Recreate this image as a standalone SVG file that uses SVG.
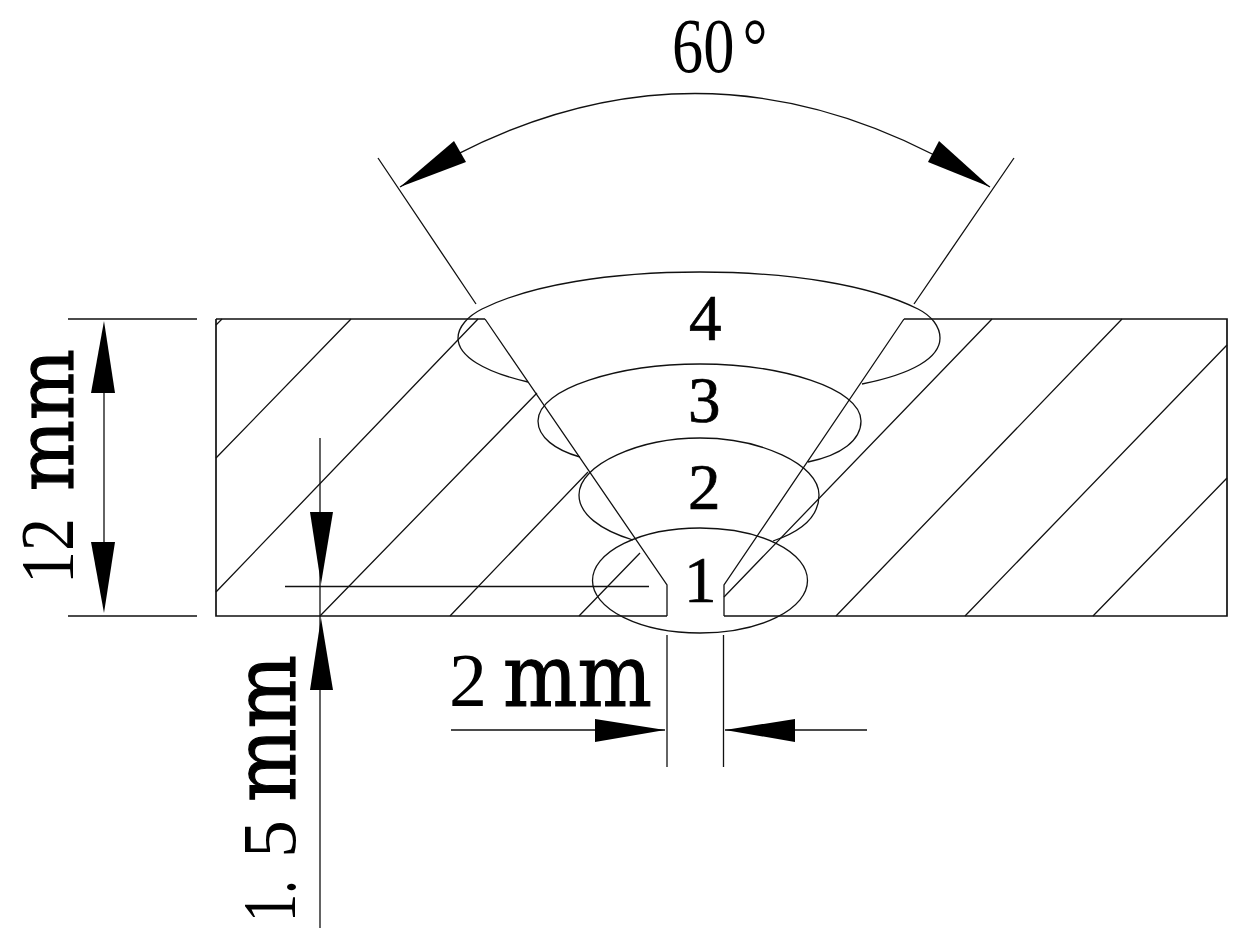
<svg xmlns="http://www.w3.org/2000/svg" width="1244" height="946" viewBox="0 0 1244 946">
<style>
.l{fill:none;stroke:#111;stroke-width:1.3}
.p{fill:none;stroke:#111;stroke-width:1.7}
.a{fill:#000;stroke:none}
.t{font-family:"Liberation Serif","Noto Sans CJK SC",serif;fill:#000}
.n{font-size:65px;stroke:#000;stroke-width:.7}
.d{font-size:77px}
.m{font-family:"DejaVu Serif",serif;font-size:86px;stroke:#000;stroke-width:1.2}
.s{font-family:"DejaVu Serif",serif;font-size:78px;stroke:#000;stroke-width:1.2}
</style>
<rect width="1244" height="946" fill="#fff"/>
<g id="plate" class="p">
<path d="M216 319H485M904 319H1227V616H724M667 616H216V319"/>
</g>
<g id="hatch" class="l">
<path d="M216 325L222 319M216 458L351 319M216 592L478 319M320 616L537 393M450 616L588 472M579 616L640 553M724 597L992 319M836 616L1122 319M965 616L1227 345M1093 616L1227 478"/>
</g>
<g id="groove" class="l">
<path d="M485 319L667 585V616M904 319L724 585V616"/>
</g>
<g id="pass4" class="l"><path d="M528 382C484 372 458 356 458 338C458 327 468 316 482 309C530 285 610 272 700 272C790 272 870 285 918 309C932 316 940 327 940 338C940 358 912 374 862 384"/></g>
<g id="pass3" class="l"><path d="M580 457C555 450 538 437 538 421C538 388 620 364 700 364C780 364 861 388 861 421C861 440 842 455 808 462"/></g>
<g id="pass2" class="l"><path d="M633 540C600 530 579 514 579 495C579 464 640 438 700 438C760 438 819 464 819 495C819 514 806 530 773 541"/></g>
<g id="pass1" class="l"><ellipse cx="700" cy="580.500" rx="107.500" ry="52.500"/></g>
<g id="connectors">
<g class="l">
<path d="M68 319H197M68 616H197M104 345V600"/>
<path d="M320 438V928M285 586.500H649"/>
<path d="M667 635V767M723.500 635V767M451 730H665M725 730H867"/>
<path d="M378 158L476 304M1014 158L914 304"/>
<path d="M400 187Q695 0 990 187"/>
</g>
<g class="a">
<path d="M104 321L91 393H115Z"/>
<path d="M104 613L91 542H115Z"/>
<path d="M321 584L310 512H333Z"/>
<path d="M321 618L310 690H333Z"/>
<path d="M665 730L595 719V742Z"/>
<path d="M725 730L795 719V742Z"/>
<path d="M400 187L454 141L466 162Z"/>
<path d="M990 187L928 162L939 141Z"/>
</g>
</g>
<g id="labels" class="t">
<text transform="translate(672 72) scale(.8 1)" font-size="78">60<tspan dx="10">°</tspan></text>
<text class="n" x="689" y="340">4</text>
<text class="n" x="688" y="422">3</text>
<text class="n" x="688" y="509">2</text>
<text class="n" x="684" y="602">1</text>
<text y="706"><tspan class="d" x="449" textLength="38" lengthAdjust="spacingAndGlyphs">2</tspan> <tspan class="m" x="503" textLength="149" lengthAdjust="spacingAndGlyphs">mm</tspan></text>
<text transform="translate(73 584) rotate(-90)"><tspan class="d" x="0" textLength="66" lengthAdjust="spacingAndGlyphs">12</tspan> <tspan class="s" x="93" textLength="142" lengthAdjust="spacingAndGlyphs">mm</tspan></text>
<text transform="translate(295 922) rotate(-90)"><tspan class="d" x="0" textLength="42" lengthAdjust="spacingAndGlyphs">1.</tspan> <tspan class="d" x="64" textLength="38" lengthAdjust="spacingAndGlyphs">5</tspan> <tspan class="m" x="120" textLength="147" lengthAdjust="spacingAndGlyphs">mm</tspan></text>
</g>
</svg>
